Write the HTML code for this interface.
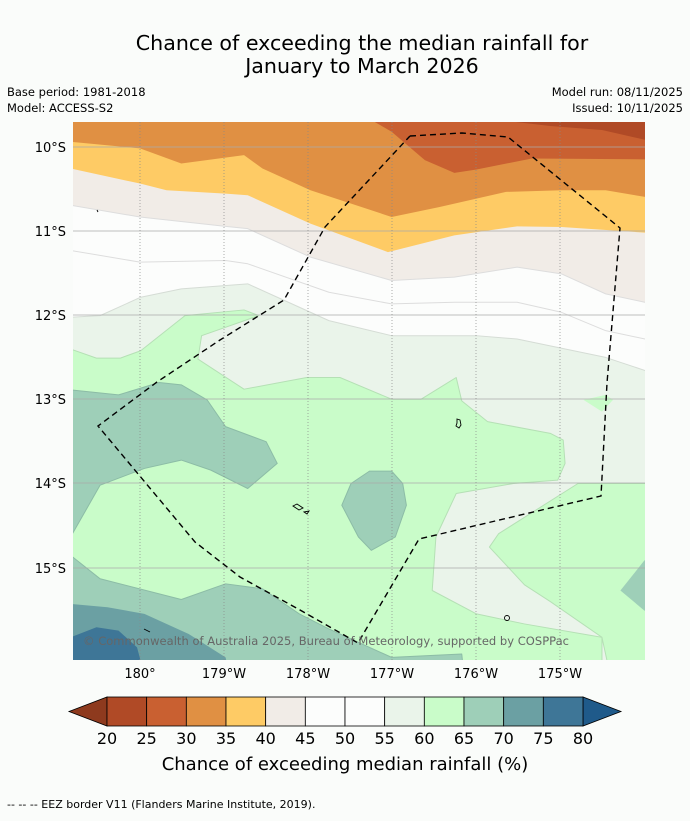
<!DOCTYPE html>
<html><head><meta charset="utf-8"><style>
body{margin:0;background:#fafcfa;font-family:"Liberation Sans","DejaVu Sans",sans-serif;}
svg text{font-family:"DejaVu Sans","Liberation Sans",sans-serif;}
</style></head><body>
<svg width="690" height="816" viewBox="0 0 690 816">
<rect width="690" height="816" fill="#fafcfa"/>
<text x="362" y="50" font-size="20.6" text-anchor="middle" fill="#000">Chance of exceeding the median rainfall for</text>
<text x="362" y="73" font-size="20.6" text-anchor="middle" fill="#000">January to March 2026</text>
<text x="7" y="96" font-size="11.5">Base period: 1981-2018</text>
<text x="7" y="112" font-size="11.5">Model: ACCESS-S2</text>
<text x="683" y="96" font-size="11.5" text-anchor="end">Model run: 08/11/2025</text>
<text x="683" y="112" font-size="11.5" text-anchor="end">Issued: 10/11/2025</text>
<defs><clipPath id="mc"><rect x="73" y="122" width="572" height="538"/></clipPath></defs>
<g clip-path="url(#mc)">
<rect x="73" y="122" width="572" height="538" fill="#fcfdfc"/>
<g transform="translate(70.6,120) scale(0.369,0.3344)" stroke-linejoin="round">
<polygon fill="#f1ece7" stroke="#ddd" vector-effect="non-scaling-stroke" points="0,0 1600,0 1600,545 1556,545 1450,520 1330,460 1210,440 1040,470 870,480 650,410 480,325 420,318 188,290 0,255"/>
<polygon fill="#fecb65" points="0,0 1600,0 1600,340 1330,320 1210,318 1040,345 860,395 650,310 480,225 420,220 260,210 188,190 0,145"/>
<polygon fill="#e09043" points="0,0 1600,0 1600,238 1450,210 1330,210 1180,215 1000,260 870,290 650,210 520,145 470,105 300,130 188,85 0,65"/>
<polygon fill="#c96031" points="815,0 870,35 960,120 1040,158 1100,148 1250,115 1600,118 1600,0"/>
<polygon fill="#b04a26" points="1160,0 1300,18 1440,30 1600,70 1600,0"/>
<polyline fill="none" stroke="#ddd" vector-effect="non-scaling-stroke" points="0,390 188,425 420,420 480,430 700,515 870,550 1040,545 1210,545 1330,575 1450,630 1600,665"/>
<polygon fill="#eaf4ea" stroke="#d5dcd5" vector-effect="non-scaling-stroke" points="0,590 80,585 190,530 300,505 480,490 620,560 700,600 870,645 1100,645 1210,655 1450,710 1600,765 1600,1700 0,1700"/>
<polygon fill="#c9fcc9" stroke="#b5e0b5" vector-effect="non-scaling-stroke" points="0,685 70,712 135,712 190,690 310,585 470,568 510,585 355,645 345,715 470,805 640,770 730,770 870,835 950,835 1045,770 1060,840 1130,902 1300,937 1335,957 1340,1027 1320,1077 1200,1087 1045,1117 990,1247 980,1407 1100,1477 1230,1507 1440,1547 1440,1700 0,1700"/>
<polygon fill="#c9fcc9" stroke="#b5e0b5" vector-effect="non-scaling-stroke" points="1135,1277 1160,1237 1375,1087 1600,1087 1600,1700 1470,1700 1440,1547 1300,1440 1230,1390"/>
<polygon fill="#c9fcc9" points="1390,837 1450,822 1470,837 1440,872"/>
<polygon fill="#9ecfb8" stroke="#8cbca6" vector-effect="non-scaling-stroke" points="0,807 130,822 240,785 300,792 370,837 420,917 530,962 560,1027 480,1102 380,1047 300,1017 200,1042 80,1092 0,1247"/>
<polygon fill="#9ecfb8" stroke="#8cbca6" vector-effect="non-scaling-stroke" points="810,1050 870,1050 900,1087 910,1152 880,1247 815,1287 780,1247 735,1152 760,1087"/>
<polygon fill="#9ecfb8" stroke="#8cbca6" vector-effect="non-scaling-stroke" points="0,1302 80,1372 300,1434 420,1387 520,1402 620,1477 700,1522 870,1607 1060,1597 1070,1700 0,1700"/>
<polygon fill="#9ecfb8" points="1600,1300 1555,1317 1490,1407 1555,1467 1600,1480"/>
<polygon fill="#6ba0a3" points="0,1447 100,1457 200,1477 320,1537 420,1607 440,1700 0,1700"/>
<polygon fill="#3e7697" points="0,1547 70,1517 130,1527 180,1577 210,1700 0,1700"/>
</g>
<g stroke="#aaa" stroke-width="0.8">
<line x1="73" x2="645" y1="147" y2="147"/><line x1="73" x2="645" y1="231" y2="231"/><line x1="73" x2="645" y1="315" y2="315"/><line x1="73" x2="645" y1="399" y2="399"/><line x1="73" x2="645" y1="483" y2="483"/><line x1="73" x2="645" y1="568" y2="568"/>
</g>
<g stroke="#888" stroke-width="0.7" stroke-dasharray="1,2">
<line x1="140" x2="140" y1="122" y2="660"/><line x1="224" x2="224" y1="122" y2="660"/><line x1="308" x2="308" y1="122" y2="660"/><line x1="392" x2="392" y1="122" y2="660"/><line x1="476" x2="476" y1="122" y2="660"/><line x1="560" x2="560" y1="122" y2="660"/>
</g>
<polyline fill="none" stroke="#000" stroke-width="1.4" stroke-dasharray="6,4" points="410,136 462,133 508,137 620,228 607,383 601,496 419,539 358,643 300,610 240,577 195,542 98,426 157,382 220,340 284,300 325,227 410,136"/>
<g fill="none" stroke="#000" stroke-width="0.9">
<path d="M457,419 l3,1 l1,5 l-2,3 l-3,-2 l1,-3z"/>
<path d="M293,506 l4,-2 l6,4 l-4,2z"/><path d="M304,512 l5,-1 l-2,3z"/>
<circle cx="507" cy="618" r="2.5"/>
<path d="M144,629 l6,3"/><path d="M97,210 l1,2"/>
</g>
<text x="83" y="645" font-size="11.5" fill="#666" textLength="486">© Commonwealth of Australia 2025, Bureau of Meteorology, supported by COSPPac</text>
</g>
<g font-size="13" text-anchor="end">
<text x="66" y="152">10°S</text><text x="66" y="236">11°S</text><text x="66" y="320">12°S</text><text x="66" y="404">13°S</text><text x="66" y="488">14°S</text><text x="66" y="573">15°S</text>
</g>
<g font-size="13" text-anchor="middle">
<text x="140" y="678">180°</text><text x="224" y="678">179°W</text><text x="308" y="678">178°W</text><text x="392" y="678">177°W</text><text x="476" y="678">176°W</text><text x="560" y="678">175°W</text>
</g>
<g id="cbar"></g>
<text x="345" y="770" font-size="18" text-anchor="middle">Chance of exceeding median rainfall (%)</text>
<text x="7" y="808" font-size="11">--  --  -- EEZ border V11 (Flanders Marine Institute, 2019).</text>
</svg>
<script>
const cbColors=["#b04a26","#c96031","#e09043","#fecb65","#f1ece7","#fcfdfc","#fcfdfc","#eaf4ea","#c9fcc9","#9ecfb8","#6ba0a3","#3e7697"];
const cbTicks=[20,25,30,35,40,45,50,55,60,65,70,75,80];
const g=document.getElementById('cbar');
const NS="http://www.w3.org/2000/svg";
const x0=107,x1=583,y0=697,y1=726,w=(x1-x0)/cbColors.length;
function mk(t,a){const e=document.createElementNS(NS,t);for(const k in a)e.setAttribute(k,a[k]);g.appendChild(e);return e;}
let l=mk('polygon',{points:`${x0},${y0} ${x0},${y1} 69,${(y0+y1)/2}`,fill:"#8e3a1e",stroke:"#000","stroke-width":0.8});


let r=mk('polygon',{points:`${x1},${y0} ${x1},${y1} 621,${(y0+y1)/2}`,fill:"#1f5a8a",stroke:"#000","stroke-width":0.8});


cbColors.forEach((c,i)=>{
 const e=mk('rect',{x:x0+i*w,y:y0,width:w,height:y1-y0,fill:c,stroke:"#000","stroke-width":0.8});
 
 
});
cbTicks.forEach((t,i)=>{
 const e=mk('text',{x:x0+i*w,y:744,"font-size":16,"text-anchor":"middle"});
 e.textContent=t;
 
 
});
</script>
</body></html>
